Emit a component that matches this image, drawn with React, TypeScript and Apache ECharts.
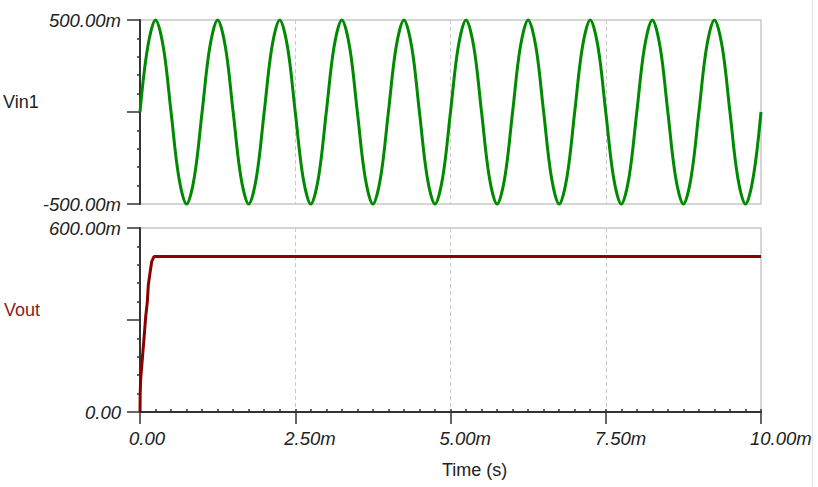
import React, { useEffect, useRef } from "react";
import * as echarts from "echarts";

// Vin1: time (ms) and value (mV), read at 1/8-period steps
const vinTime = [
  0, 0.125, 0.25, 0.375, 0.5, 0.625, 0.75, 0.875,
  1, 1.125, 1.25, 1.375, 1.5, 1.625, 1.75, 1.875,
  2, 2.125, 2.25, 2.375, 2.5, 2.625, 2.75, 2.875,
  3, 3.125, 3.25, 3.375, 3.5, 3.625, 3.75, 3.875,
  4, 4.125, 4.25, 4.375, 4.5, 4.625, 4.75, 4.875,
  5, 5.125, 5.25, 5.375, 5.5, 5.625, 5.75, 5.875,
  6, 6.125, 6.25, 6.375, 6.5, 6.625, 6.75, 6.875,
  7, 7.125, 7.25, 7.375, 7.5, 7.625, 7.75, 7.875,
  8, 8.125, 8.25, 8.375, 8.5, 8.625, 8.75, 8.875,
  9, 9.125, 9.25, 9.375, 9.5, 9.625, 9.75, 9.875,
  10,
];
const vinValue = [
  0, 354, 500, 354, 0, -354, -500, -354,
  0, 354, 500, 354, 0, -354, -500, -354,
  0, 354, 500, 354, 0, -354, -500, -354,
  0, 354, 500, 354, 0, -354, -500, -354,
  0, 354, 500, 354, 0, -354, -500, -354,
  0, 354, 500, 354, 0, -354, -500, -354,
  0, 354, 500, 354, 0, -354, -500, -354,
  0, 354, 500, 354, 0, -354, -500, -354,
  0, 354, 500, 354, 0, -354, -500, -354,
  0, 354, 500, 354, 0, -354, -500, -354,
  0,
];

// Vout: time (ms) and value (mV)
const voutTime = [0, 0.003, 0.01, 0.04, 0.065, 0.092, 0.118, 0.134, 0.161, 0.188, 0.225, 10];
const voutValue = [0, 60, 104, 180, 241, 311, 360, 414, 453, 490, 507, 507];

// tick labels
const xTickLabels = ["0.00", "2.50m", "5.00m", "7.50m", "10.00m"];
const yTopTickLabels = ["-500.00m", "", "500.00m"];
const yBottomTickLabels = ["0.00", "", "600.00m"];

const FONT = "Arial, 'Liberation Sans', sans-serif";
const AXIS_DARK = "#333333";
const BORDER = "#c8c8c8";

export default function App() {
  const ref = useRef<HTMLDivElement>(null);

  useEffect(() => {
    if (!ref.current) return;
    const chart = echarts.init(ref.current, null, { renderer: "svg" });

    const labelStyle = {
      fontFamily: FONT,
      fontSize: 18.5,
      fontStyle: "italic" as const,
      color: "#222",
    };

    const yAxisCommon = {
      type: "value" as const,
      axisLine: { show: true, lineStyle: { color: AXIS_DARK, width: 2 } },
      axisTick: { show: true, length: 13, lineStyle: { color: AXIS_DARK, width: 1.5 } },
      minorTick: { show: true, splitNumber: 5, length: 3, lineStyle: { color: AXIS_DARK, width: 1.5 } },
      splitLine: { show: false },
    };

    const option = {
      animation: false,
      backgroundColor: "#ffffff",
      grid: [
        { left: 140, top: 20, width: 621, height: 184, show: true, borderColor: BORDER, borderWidth: 1.5, backgroundColor: "transparent" },
        { left: 140, top: 228, width: 621, height: 184, show: true, borderColor: BORDER, borderWidth: 1.5, backgroundColor: "transparent" },
      ],
      xAxis: [
        {
          type: "value",
          gridIndex: 0,
          min: 0,
          max: 10,
          interval: 2.5,
          axisLine: { show: false },
          axisTick: { show: false },
          axisLabel: { show: false },
          splitLine: {
            show: true,
            showMinLine: false,
            showMaxLine: false,
            lineStyle: { color: BORDER, type: [4, 3], width: 1 },
          },
        },
        {
          type: "value",
          gridIndex: 1,
          position: "bottom",
          min: 0,
          max: 10,
          interval: 2.5,
          axisLine: { show: true, onZero: false, lineStyle: { color: AXIS_DARK, width: 2 } },
          axisTick: { show: true, length: 12, lineStyle: { color: AXIS_DARK, width: 1.5 } },
          axisLabel: {
            show: true,
            margin: 17,
            formatter: (_v: number, i: number) => `{a|${xTickLabels[i]}}`,
            rich: { a: { ...labelStyle, width: 22, align: "left" } },
          },
          splitLine: {
            show: true,
            showMinLine: false,
            showMaxLine: false,
            lineStyle: { color: BORDER, type: [4, 3], width: 1 },
          },
        },
        {
          type: "value",
          gridIndex: 1,
          position: "bottom",
          min: 0,
          max: 10,
          interval: 0.25,
          axisLine: { show: false, onZero: false },
          axisTick: { show: true, inside: true, length: 3, lineStyle: { color: AXIS_DARK, width: 1.5 } },
          axisLabel: { show: false },
          splitLine: { show: false },
        },
      ],
      yAxis: [
        {
          ...yAxisCommon,
          gridIndex: 0,
          min: -500,
          max: 500,
          interval: 500,
          axisLabel: {
            ...labelStyle,
            margin: 19,
            formatter: (_v: number, i: number) => yTopTickLabels[i],
          },
        },
        {
          ...yAxisCommon,
          gridIndex: 1,
          min: 0,
          max: 600,
          interval: 300,
          axisLabel: {
            ...labelStyle,
            margin: 19,
            formatter: (_v: number, i: number) => yBottomTickLabels[i],
          },
        },
      ],
      series: [
        {
          name: "Vin1",
          type: "line",
          xAxisIndex: 0,
          yAxisIndex: 0,
          data: vinTime.map((t, i) => [t, vinValue[i]]),
          smooth: 0.35,
          showSymbol: false,
          lineStyle: { color: "#008a00", width: 3 },
          clip: false,
        },
        {
          name: "Vout",
          type: "line",
          xAxisIndex: 1,
          yAxisIndex: 1,
          data: voutTime.map((t, i) => [t, voutValue[i]]),
          showSymbol: false,
          lineStyle: { color: "#8b0000", width: 3 },
          clip: false,
        },
      ],
      graphic: [
        {
          type: "text",
          left: 3,
          top: 93,
          style: { text: "Vin1", fontFamily: FONT, fontSize: 18, fill: "#222" },
        },
        {
          type: "text",
          left: 4,
          top: 301,
          style: { text: "Vout", fontFamily: FONT, fontSize: 18, fill: "#8b1a1a" },
        },
        {
          type: "text",
          left: 442,
          top: 461,
          style: { text: "Time (s)", fontFamily: FONT, fontSize: 18, fill: "#222" },
        },
        {
          type: "line",
          shape: { x1: 812.5, y1: 0, x2: 812.5, y2: 487 },
          style: { stroke: "#e3e3e3", lineWidth: 1 },
        },
      ],
    };

    chart.setOption(option as any);
    return () => chart.dispose();
  }, []);

  return (
    <div
      ref={ref}
      style={{ position: "fixed", left: 0, top: 0, width: 818, height: 487 }}
    />
  );
}
